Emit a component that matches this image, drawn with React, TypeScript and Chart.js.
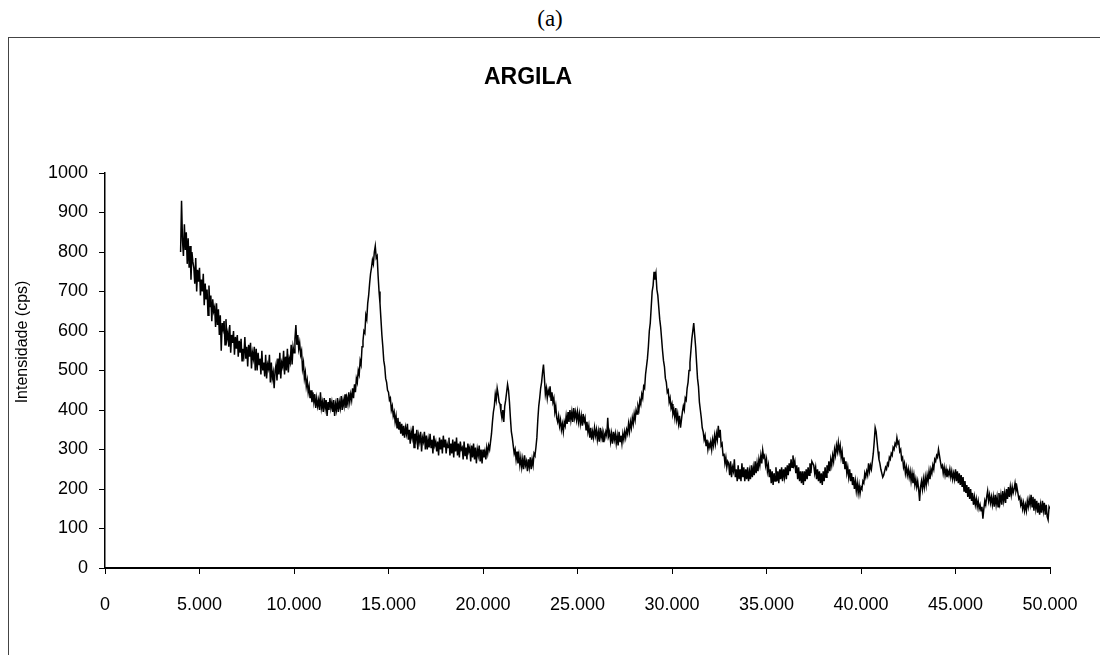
import React, { useEffect, useRef } from "react";
import { Chart, registerables } from "chart.js";

Chart.register(...registerables);

// 2-theta sampling grid of the scan (degrees)
const xStart = 4.0;
const xStep = 0.05;

// Intensity (cps), one value per 0.05 step from 4.00 to 50.00
const intensity: number[] = [
  // 4.x
  800, 930, 830, 790, 870, 805, 850, 770, 835, 760, 815, 730, 800, 775, 760, 720, 785, 700, 755, 725,
  // 5.x
  760, 690, 730, 700, 745, 665, 720, 680, 705, 640, 715, 660, 690, 625, 680, 650, 660, 610, 670, 615,
  // 6.x
  655, 590, 640, 550, 620, 605, 625, 565, 630, 580, 595, 560, 615, 545, 590, 570, 600, 540, 585, 555,
  // 7.x
  590, 535, 575, 545, 580, 525, 555, 540, 585, 530, 560, 510, 565, 535, 570, 505, 545, 530, 560, 500,
  // 8.x
  555, 500, 545, 515, 530, 490, 550, 500, 520, 485, 540, 480, 515, 505, 540, 470, 520, 480, 495, 455,
  // 9.x
  500, 515, 475, 530, 490, 545, 480, 520, 510, 550, 490, 535, 500, 555, 495, 530, 520, 565, 515, 560,
  // 10.x
  545, 580, 615, 565, 590, 555, 570, 540, 550, 505, 520, 480, 495, 460, 475, 445, 460, 430, 450, 420,
  // 11.x
  445, 420, 440, 405, 430, 410, 425, 400, 445, 405, 420, 395, 430, 405, 425, 385, 420, 400, 430, 405,
  // 12.x
  420, 395, 425, 385, 415, 400, 430, 395, 420, 405, 435, 400, 425, 410, 440, 405, 430, 415, 445, 420,
  // 13.x
  440, 425, 455, 430, 465, 445, 480, 470, 500, 490, 525, 515, 560, 575, 600, 595, 640, 630, 670, 690,
  // 14.x
  720, 745, 760, 780, 770, 800, 815, 785, 790, 740, 700, 670, 630, 590, 560, 525, 510, 480, 470, 450,
  // 15.x
  445, 425, 430, 400, 410, 385, 395, 370, 385, 355, 380, 350, 370, 340, 365, 335, 360, 330, 355, 340,
  // 16.x
  365, 325, 350, 315, 345, 330, 360, 305, 340, 325, 350, 300, 335, 320, 345, 295, 330, 320, 345, 300,
  // 17.x
  335, 300, 325, 305, 340, 305, 325, 290, 335, 310, 320, 295, 320, 285, 330, 300, 325, 290, 335, 305,
  // 18.x
  325, 290, 315, 305, 330, 285, 315, 290, 325, 280, 320, 295, 330, 285, 315, 280, 320, 300, 305, 275,
  // 19.x
  320, 285, 305, 275, 315, 295, 305, 270, 310, 280, 315, 275, 305, 265, 300, 285, 310, 270, 300, 265,
  // 20.x
  300, 280, 295, 275, 305, 290, 310, 300, 320, 340, 370, 395, 410, 440, 425, 455, 440, 420, 415, 395,
  // 21.x
  380, 400, 370, 410, 425, 445, 465, 450, 420, 380, 345, 330, 310, 290, 300, 275, 295, 265, 285, 260,
  // 22.x
  280, 255, 275, 250, 285, 260, 270, 245, 275, 255, 280, 250, 275, 260, 290, 285, 305, 330, 375, 410,
  // 23.x
  430, 455, 470, 495, 515, 480, 440, 455, 430, 450, 440, 460, 425, 445, 420, 430, 395, 410, 380, 370,
  // 24.x
  385, 360, 375, 350, 365, 345, 370, 360, 385, 365, 395, 370, 400, 375, 395, 370, 405, 380, 395, 375,
  // 25.x
  395, 370, 390, 365, 385, 360, 390, 370, 380, 350, 370, 345, 360, 330, 355, 325, 345, 330, 355, 335,
  // 26.x
  350, 325, 345, 320, 355, 330, 345, 320, 340, 330, 345, 335, 380, 335, 345, 320, 340, 315, 345, 325,
  // 27.x
  340, 315, 335, 310, 345, 320, 335, 315, 340, 325, 345, 330, 350, 340, 365, 345, 370, 355, 380, 365,
  // 28.x
  390, 375, 400, 390, 410, 400, 425, 415, 440, 430, 460, 455, 490, 510, 530, 560, 600, 620, 660, 700,
  // 29.x
  715, 750, 730, 745, 705, 690, 660, 630, 610, 580, 550, 525, 510, 480, 470, 445, 450, 420, 430, 405,
  // 30.x
  415, 390, 400, 380, 405, 375, 390, 365, 385, 355, 375, 395, 410, 400, 430, 425, 455, 470, 500, 520,
  // 31.x
  550, 580, 600, 620, 590, 560, 520, 480, 460, 420, 400, 380, 355, 345, 325, 335, 310, 325, 300, 315,
  // 32.x
  305, 320, 300, 325, 310, 335, 315, 340, 325, 360, 330, 350, 310, 315, 285, 290, 265, 280, 255, 270,
  // 33.x
  265, 235, 270, 230, 255, 245, 275, 230, 250, 220, 260, 225, 250, 220, 265, 230, 255, 220, 250, 225,
  // 34.x
  255, 220, 245, 225, 260, 230, 255, 235, 270, 240, 265, 245, 275, 260, 285, 265, 298, 280, 285, 260,
  // 35.x
  275, 245, 260, 230, 250, 215, 245, 210, 240, 220, 255, 220, 245, 215, 250, 225, 255, 220, 250, 230,
  // 36.x
  255, 225, 260, 235, 265, 245, 275, 255, 285, 260, 270, 240, 260, 225, 255, 220, 245, 215, 245, 210,
  // 37.x
  245, 220, 250, 225, 255, 235, 265, 240, 270, 265, 260, 240, 255, 225, 250, 220, 245, 215, 240, 210,
  // 38.x
  245, 220, 255, 230, 260, 240, 270, 245, 275, 260, 285, 270, 300, 285, 310, 295, 318, 295, 310, 280,
  // 39.x
  295, 265, 280, 250, 270, 240, 255, 230, 250, 220, 240, 210, 230, 200, 220, 195, 215, 190, 210, 188,
  // 40.x
  205, 200, 220, 215, 240, 230, 245, 235, 265, 245, 260, 250, 270, 290, 320, 355, 345, 320, 295, 275,
  // 41.x
  265, 250, 240, 230, 235, 245, 255, 250, 265, 260, 280, 275, 290, 285, 305, 300, 315, 310, 330, 315,
  // 42.x
  320, 295, 300, 275, 280, 255, 265, 240, 255, 235, 250, 230, 245, 220, 240, 215, 235, 210, 225, 205,
  // 43.x
  220, 200, 170, 205, 220, 200, 225, 205, 230, 210, 235, 220, 245, 225, 250, 240, 260, 250, 275, 270,
  // 44.x
  285, 280, 300, 285, 270, 255, 260, 240, 255, 235, 250, 230, 245, 235, 250, 230, 245, 225, 240, 225,
  // 45.x
  250, 220, 245, 215, 240, 210, 235, 205, 230, 195, 220, 190, 210, 180, 205, 175, 200, 170, 190, 160,
  // 46.x
  180, 160, 175, 155, 170, 150, 160, 145, 155, 125, 150, 170, 160, 180, 195, 170, 185, 165, 180, 160,
  // 47.x
  180, 155, 185, 160, 180, 155, 190, 165, 185, 160, 195, 170, 190, 165, 200, 175, 205, 180, 205, 185,
  // 48.x
  205, 190, 200, 215, 195, 205, 190, 175, 180, 160, 170, 150, 165, 145, 160, 145, 170, 155, 175, 160,
  // 49.x
  185, 155, 180, 145, 175, 150, 170, 140, 165, 135, 160, 140, 170, 145, 165, 135, 160, 130, 122, 155,
  // 50.0
  150,
];

const xTickValues = [0, 5, 10, 15, 20, 25, 30, 35, 40, 45, 50];
const xTickLabels = ["0", "5.000", "10.000", "15.000", "20.000", "25.000", "30.000", "35.000", "40.000", "45.000", "50.000"];
const yTickValues = [0, 100, 200, 300, 400, 500, 600, 700, 800, 900, 1000];
const yTickLabels = ["0", "100", "200", "300", "400", "500", "600", "700", "800", "900", "1000"];

const panelLabel = "(a)";
const chartTitle = "ARGILA";
const yAxisTitle = "Intensidade (cps)";

const SANS = '"Liberation Sans", Arial, sans-serif';

// Draws the chart title and the y-axis title where the reference places them
const titlesPlugin = {
  id: "argilaTitles",
  afterDraw(chart: any) {
    const ctx = chart.ctx;
    ctx.save();
    ctx.fillStyle = "#000";
    ctx.textAlign = "center";
    ctx.textBaseline = "middle";
    ctx.font = `bold 23px ${SANS}`;
    ctx.fillText(chartTitle, 519, 40);
    ctx.translate(14, 304);
    ctx.rotate(-Math.PI / 2);
    ctx.font = `16px ${SANS}`;
    ctx.fillText(yAxisTitle, 0, 0);
    ctx.restore();
  },
};

export default function App() {
  const canvasRef = useRef<HTMLCanvasElement | null>(null);

  useEffect(() => {
    document.documentElement.style.overflow = "hidden";
    const canvas = canvasRef.current;
    if (!canvas) return;
    const points = intensity.map((v, i) => ({ x: +(xStart + i * xStep).toFixed(2), y: v }));
    const chart = new Chart(canvas, {
      type: "line",
      data: {
        datasets: [
          {
            label: chartTitle,
            data: points,
            borderColor: "#000",
            borderWidth: 1.5,
            pointRadius: 0,
            tension: 0,
            fill: false,
          },
        ],
      },
      options: {
        responsive: false,
        animation: false,
        layout: { padding: { left: 0, right: 50, top: 135, bottom: 0 } },
        plugins: {
          legend: { display: false },
          tooltip: { enabled: false },
          title: { display: false },
        },
        scales: {
          x: {
            type: "linear",
            min: 0,
            max: 50,
            afterFit: (scale: any) => {
              scale.height = 87;
            },
            afterBuildTicks: (scale: any) => {
              scale.ticks = xTickValues.map((v) => ({ value: v }));
            },
            ticks: {
              autoSkip: false,
              maxRotation: 0,
              padding: 20,
              color: "#000",
              font: { family: SANS, size: 18 },
              callback: (value: any) => {
                const i = xTickValues.indexOf(Number(value));
                return i >= 0 ? xTickLabels[i] : "";
              },
            },
            grid: {
              drawOnChartArea: false,
              drawTicks: true,
              tickLength: 6,
              color: "#000",
              tickWidth: 1,
            },
            border: { display: true, color: "#000", width: 2 },
          },
          y: {
            type: "linear",
            min: 0,
            max: 1000,
            afterFit: (scale: any) => {
              scale.width = 96;
            },
            afterBuildTicks: (scale: any) => {
              scale.ticks = yTickValues.map((v) => ({ value: v }));
            },
            ticks: {
              autoSkip: false,
              padding: 11,
              color: "#000",
              font: { family: SANS, size: 18 },
              callback: (value: any) => {
                const i = yTickValues.indexOf(Number(value));
                return i >= 0 ? yTickLabels[i] : "";
              },
            },
            title: { display: false, text: yAxisTitle },
            grid: {
              drawOnChartArea: false,
              drawTicks: true,
              tickLength: 6,
              color: "#000",
              tickWidth: 1,
            },
            border: { display: true, color: "#000", width: 1.5 },
          },
        },
      },
      plugins: [titlesPlugin],
    });
    return () => chart.destroy();
  }, []);

  return (
    <div>
      <div
        style={{
          fontFamily: '"Liberation Serif", "Times New Roman", serif',
          fontSize: 23,
          lineHeight: "22px",
          height: 29,
          textAlign: "center",
          color: "#000",
        }}
      >
        {panelLabel}
      </div>
      <div
        style={{
          position: "fixed",
          left: 8,
          top: 37,
          width: 1200,
          height: 700,
          borderTop: "1px solid #444",
          borderLeft: "1px solid #444",
          boxSizing: "border-box",
        }}
      >
        <canvas ref={canvasRef} width={1091} height={617} style={{ display: "block" }} />
      </div>
    </div>
  );
}
